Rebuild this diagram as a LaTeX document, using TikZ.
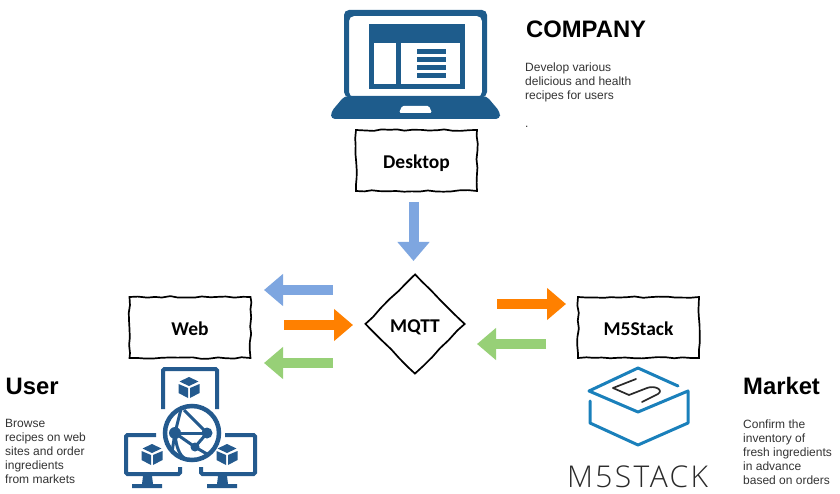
\documentclass[tikz,border=0pt]{standalone}
\usepackage{fontspec}
\setmainfont{Liberation Sans}
\newfontfamily\sketchfont{Carlito}[BoldFont=Carlito Bold]
\newfontfamily\logofont{Open Sans Light}[LetterSpace=8]
\usetikzlibrary{arrows.meta,decorations.pathmorphing,shapes.geometric}
\definecolor{laptopblue}{HTML}{1E5C8C}
\definecolor{webblue}{HTML}{245A8E}
\definecolor{logoblue}{HTML}{1A80BB}
\definecolor{logodark}{HTML}{2A2A2A}
\definecolor{arrowblue}{HTML}{7EA6E0}
\definecolor{arroworange}{HTML}{FF8000}
\definecolor{arrowgreen}{HTML}{97D077}
\definecolor{bodygray}{HTML}{333333}
\begin{document}
\begin{tikzpicture}[x=1pt,y=-1pt]
	\tikzset{blk/.style={draw, line width=1.7pt, minimum height=61pt, minimum width=121pt, inner sep=0pt, text height=16pt, text depth=0pt, font=\sketchfont\bfseries\fontsize{19.5}{20}\selectfont, decorate, decoration={random steps, segment length=8pt, amplitude=0.9pt}}}
	\tikzset{dia/.style={blk, shape=diamond, minimum height=100pt, minimum width=100pt, aspect=1, decoration={random steps, segment length=12pt, amplitude=0.6pt}}}
	\tikzset{flow/.style={line width=10pt, -{Triangle[length=19pt,width=31pt]}}}
	\tikzset{head/.style={anchor=base west, inner sep=0pt, font=\bfseries\fontsize{23.8}{26}\selectfont}}
	\tikzset{body/.style={anchor=north west, inner sep=0pt, align=left, text=bodygray, font=\fontsize{12}{14}\selectfont}}
	\useasboundingbox (0,0) rectangle (840,494);

	\fill[laptopblue,rounded corners=5pt,even odd rule] (344,97) -- (344,10) -- (487,10) -- (487,97) -- cycle (349,16) rectangle (482,97);
	\fill[laptopblue,rounded corners=4pt] (344.5,96) -- (331,112) -- (331,119) -- (500,119) -- (500,112) -- (486.5,96) -- cycle;
	\fill[white,rounded corners=1.5pt] (399,113) -- (402,106) -- (429,106) -- (432,113) -- cycle;
	\fill[laptopblue] (369,24) rectangle (465,89);
	\fill[white] (374,43) rectangle (396,84);
	\fill[white] (401,43) rectangle (460,84);
	\fill[laptopblue] (417,49) rectangle (446,54);
	\fill[laptopblue] (417,57) rectangle (446,62);
	\fill[laptopblue] (417,65) rectangle (446,70);
	\fill[laptopblue] (417,73) rectangle (446,78);

	\begin{scope}[webblue,line width=4pt,rounded corners=1.5pt]
		\draw (163,409) -- (163,369) -- (217,369) -- (217,409);
		\draw (156,435) -- (126,435) -- (126,474) -- (180,474) -- (180,467);
		\draw (225,435) -- (255,435) -- (255,474) -- (201,474) -- (201,467);
	\end{scope}
	\fill[webblue] (143,476) -- (152,476) -- (153,484) -- (162,484) -- (162,488) -- (132,488) -- (132,484) -- (142,484) -- cycle;
	\fill[webblue] (218,476) -- (227,476) -- (228,484) -- (237,484) -- (237,488) -- (207,488) -- (207,484) -- (217,484) -- cycle;
	\foreach \cx/\cy in {189/387.5,152/454.5,227/454.5} {
		\fill[webblue] (\cx,\cy-10.5) -- (\cx+9.5,\cy-6) -- (\cx,\cy-1.5) -- (\cx-9.5,\cy-6) -- cycle;
		\fill[webblue] (\cx-10.5,\cy-3.5) -- (\cx-1,\cy+0.5) -- (\cx-1,\cy+10.5) -- (\cx-10.5,\cy+5.5) -- cycle;
		\fill[webblue] (\cx+10.5,\cy-3.5) -- (\cx+1,\cy+0.5) -- (\cx+1,\cy+10.5) -- (\cx+10.5,\cy+5.5) -- cycle;
	}
	\draw[webblue,line width=4.5pt,fill=white] (192,433) circle (27pt);
	\begin{scope}[webblue,line width=3pt]
		\draw (175,433) -- (207,433);
		\draw (175,433) -- (181,409);
		\draw (175,433) -- (172,452);
		\draw (175,433) -- (195,447) -- (207,433);
		\draw (207,433) -- (184,410);
		\draw (195,447) -- (207,454);
		\draw (175,433) .. controls (176,448) and (180,455) .. (184,458);
		\fill (175,433) circle (6pt);
		\fill (207,433) circle (5.5pt);
		\fill (195,447) circle (4.5pt);
	\end{scope}

	\begin{scope}[logoblue,line width=3pt,line cap=round,line join=round]
		\draw (678,386) -- (638,368) -- (589,391) -- (638,412) -- (688,391) -- (688,423) -- (638,445) -- (590,423) -- (590,401);
	\end{scope}
	\draw[logodark,line width=1.7pt,line cap=round,line join=round] (636,379) -- (613,388) -- (629,395) -- (647,388) .. controls (655,385) and (664,390) .. (658,394) -- (642,402);

	\node[blk] (desktop) at (416.5,160.5) {Desktop};
	\node[blk] (web) at (190,327.5) {Web};
	\node[blk] (m5) at (638.5,327.5) {M5Stack};
	\node[dia] (mqtt) at (415,324) {MQTT};

	\coordinate (dtop) at (413.5,202);
	\coordinate (dtip) at (413.5,261);
	\coordinate (wbt) at (333,290);
	\coordinate (wbh) at (264,290);
	\coordinate (wot) at (284,325);
	\coordinate (woh) at (353,325);
	\coordinate (wgt) at (333,363);
	\coordinate (wgh) at (264,363);
	\coordinate (mot) at (497,304);
	\coordinate (moh) at (566,304);
	\coordinate (mgt) at (546,344);
	\coordinate (mgh) at (477,344);
	\draw[flow,arrowblue] (dtop) -- (dtip);
	\draw[flow,arrowblue] (wbt) -- (wbh);
	\draw[flow,arroworange] (wot) -- (woh);
	\draw[flow,arrowgreen] (wgt) -- (wgh);
	\draw[flow,arroworange] (mot) -- (moh);
	\draw[flow,arrowgreen] (mgt) -- (mgh);

	\node[head] (chead) at (526,38) {COMPANY};
	\node[body] (ctext) at (525,63) {Develop various\\delicious and health\\recipes for users\\[14pt].};
	\node[head] (uhead) at (5.5,394.5) {User};
	\node[body] (utext) at (5,419) {Browse\\recipes on web\\sites and order\\ingredients\\from markets};
	\node[head] (mhead) at (743,394.5) {Market};
	\node[body] (mtext) at (743,419.5) {Confirm the\\inventory of\\fresh ingredients\\in advance\\based on orders};
	\node[anchor=base west, inner sep=0pt, text=logodark, font=\logofont\fontsize{30}{32}\selectfont] (mlogo) at (567,487) {M5STACK};
\end{tikzpicture}
\end{document}
